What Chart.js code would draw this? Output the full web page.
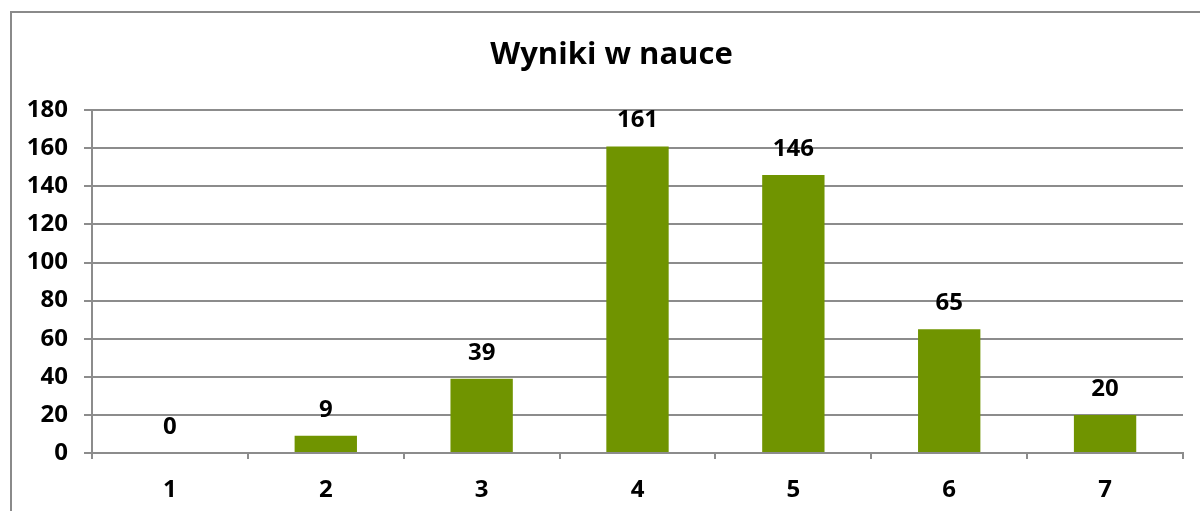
<!DOCTYPE html>
<html>
<head>
<meta charset="utf-8">
<script src="https://cdn.jsdelivr.net/npm/chart.js@4"></script>
<style>
  body { margin: 0; background: #fff; }
  #wrap { position: relative; width: 1200px; height: 511px; overflow: hidden; }
  #frame { position: absolute; left: 10px; top: 11px; width: 1300px; height: 600px; border: 2px solid #8a8a8a; }
  #myChart { position: absolute; left: 0; top: 0; }
</style>
</head>
<body>
<div id="wrap">
  <div id="frame"></div>
  <canvas id="myChart" width="1200" height="511"></canvas>
</div>
<script>
const categories = ['1', '2', '3', '4', '5', '6', '7'];
const values = [0, 9, 39, 161, 146, 65, 20];
const yTicks = [0, 20, 40, 60, 80, 100, 120, 140, 160, 180];

const gridGray = '#8c8c8c';
const tickFont = { family: 'Open Sans', size: 24, weight: 'bold' };

// value labels above the bars
const barLabels = {
  id: 'barLabels',
  afterDatasetsDraw(chart) {
    const c = chart.ctx;
    const meta = chart.getDatasetMeta(0);
    c.save();
    c.font = 'bold 24px "Open Sans"';
    c.fillStyle = '#000';
    c.textAlign = 'center';
    c.textBaseline = 'middle';
    meta.data.forEach((bar, i) => {
      c.fillText(values[i], bar.x, bar.y - 26);
    });
    c.restore();
  }
};

// title sits a bit right of the canvas centre in the original
const shiftTitle = {
  id: 'shiftTitle',
  afterLayout(chart) {
    if (chart.titleBlock) chart.titleBlock.left = 40;
  }
};

const ctx = document.getElementById('myChart');

new Chart(ctx, {
  type: 'bar',
  data: {
    labels: categories,
    datasets: [{
      data: values,
      backgroundColor: '#709400',
      borderWidth: 0,
      categoryPercentage: 1,
      barPercentage: 0.4
    }]
  },
  options: {
    responsive: false,
    animation: false,
    layout: { padding: { left: 0, right: 17, top: 0, bottom: 0 } },
    plugins: {
      legend: { display: false },
      tooltip: { enabled: false },
      title: {
        display: true,
        text: 'Wyniki w nauce',
        color: '#000',
        font: { family: 'Open Sans', size: 31, weight: 'bold' },
        padding: { top: 37, bottom: 36 }
      }
    },
    scales: {
      x: {
        grid: { offset: true, drawOnChartArea: false, color: gridGray, lineWidth: 2, tickLength: 6 },
        border: { color: gridGray, width: 2 },
        ticks: { color: '#000', font: tickFont, padding: 17 },
        afterFit(scale) { scale.height = 58; }
      },
      y: {
        min: 0,
        max: 180,
        afterBuildTicks(scale) { scale.ticks = yTicks.map(v => ({ value: v })); },
        grid: { color: gridGray, lineWidth: 2, tickLength: 8 },
        border: { color: gridGray, width: 2 },
        ticks: { color: '#000', font: tickFont, padding: 16 },
        afterFit(scale) { scale.width = 92; }
      }
    }
  },
  plugins: [barLabels, shiftTitle]
});
</script>
</body>
</html>
